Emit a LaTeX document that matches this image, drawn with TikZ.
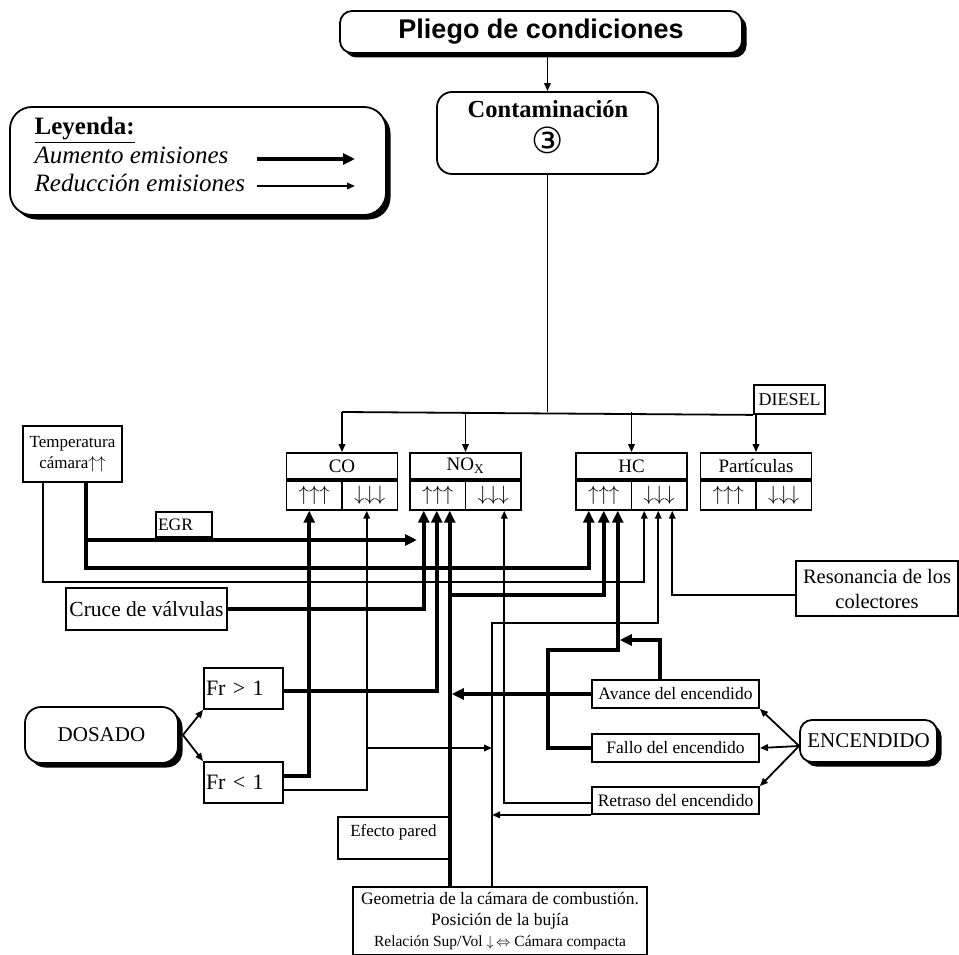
\documentclass[tikz,border=0pt]{standalone}
\usepackage{fontspec}
\setmainfont{Liberation Serif}
\newfontfamily\sansnegra{Liberation Sans}
\newfontfamily\simbolos{DejaVu Sans}
\usetikzlibrary{arrows.meta, positioning, shadows}

\newcommand{\tam}[2]{\fontsize{#1}{#2}\selectfont}

\tikzset{
  caja/.style={draw, line width=1.8pt, fill=white, inner sep=0pt},
  sombra/.style={caja, rounded corners=#1,
    drop shadow={shadow xshift=4.5pt, shadow yshift=-4.5pt, fill=black, opacity=1}},
  titulo/.style={caja, minimum width=111pt, minimum height=26pt, font=\tam{19}{22}},
  celda/.style={caja, minimum width=55.5pt, minimum height=29pt, font=\tam{21}{22}},
  linea/.style={line width=1.8pt},
  aumento/.style={line width=4pt, -{Triangle[length=12pt,width=11pt]}},
  reduccion/.style={line width=1.8pt, -{Triangle[length=8pt,width=6.5pt]}},
}

\begin{document}
\begin{tikzpicture}[x=1pt, y=-1pt]
\useasboundingbox (0,0) rectangle (959,955);

% cabecera
\node[sombra=12pt, minimum width=402pt, minimum height=42pt, font=\sansnegra\bfseries\tam{27}{30}] (pliego) at (541,32) {Pliego de condiciones};
\node[caja, rounded corners=15pt, minimum width=221pt, minimum height=82pt] (conta) at (547.5,133) {};
\node[anchor=base, font=\bfseries\tam{24.5}{28}] (conta-txt) at (548,118) {Contaminación};
\node[font=\simbolos\tam{36}{38}] (conta-num) at (548,140) {③};

% leyenda
\node[sombra=22pt, minimum width=376pt, minimum height=108pt] (leyenda) at (198,161) {};
\node[anchor=north west, align=left, font=\tam{25}{28.5}] (ley-txt) at ([xshift=22pt,yshift=-8pt]leyenda.north west)
  {\underline{\textbf{Leyenda:}}\\ \textit{Aumento emisiones}\\ \textit{Reducción emisiones}};
\coordinate (ley-a1) at (257,159);
\coordinate (ley-a2) at (355,159);
\coordinate (ley-r1) at (257,186);
\coordinate (ley-r2) at (355,186);
\draw[aumento] (ley-a1) -- (ley-a2);
\draw[reduccion] (ley-r1) -- (ley-r2);

% emisiones
\foreach \nom/\txt/\xc in {co/CO/342, nox/{NO\textsubscript{X}}/465.5, hc/HC/631.5, part/Partículas/756}{
  \node[titulo] (\nom) at (\xc,466) {\txt};
  \node[celda, anchor=north west] (\nom-up) at (\nom.south west) {$\uparrow\uparrow\uparrow$};
  \node[celda, anchor=north east] (\nom-dn) at (\nom.south east) {$\downarrow\downarrow\downarrow$};
}
\node[caja, minimum width=71pt, minimum height=29pt, font=\tam{18}{20}] (diesel) at (789.5,399.5) {DIESEL};

% entradas
\coordinate (co-u) at ([xshift=-5pt]co-up.south);
\coordinate (co-d) at ([xshift=-3pt]co-dn.south);
\coordinate (nox-u1) at ([xshift=-14pt]nox-up.south);
\coordinate (nox-u2) at ([xshift=-1pt]nox-up.south);
\coordinate (nox-u3) at ([xshift=12pt]nox-up.south);
\coordinate (nox-d) at ([xshift=11pt]nox-dn.south);
\coordinate (hc-u1) at ([xshift=-15pt]hc-up.south);
\coordinate (hc-u2) at ([xshift=0pt]hc-up.south);
\coordinate (hc-u3) at ([xshift=14pt]hc-up.south);
\coordinate (hc-d1) at ([xshift=-15pt]hc-dn.south);
\coordinate (hc-d2) at ([xshift=-1pt]hc-dn.south);
\coordinate (hc-d3) at ([xshift=13pt]hc-dn.south);

% causas
\node[caja, minimum width=99pt, minimum height=56pt, align=center, font=\tam{17}{21}] (temp) at (72.5,454) {Temperatura\\cámara$\uparrow\uparrow$};
\node[caja, minimum width=56pt, minimum height=25pt, text width=52pt, align=left, font=\tam{17.5}{20}] (egr) at (184,524.5) {EGR};
\node[caja, minimum width=161pt, minimum height=42pt, font=\tam{21.5}{24}] (cruce) at (146.5,609) {Cruce de válvulas};
\node[caja, minimum width=162pt, minimum height=55pt, align=center, font=\tam{20.5}{25}] (reson) at (877,588.5) {Resonancia de los\\colectores};
\node[sombra=16pt, minimum width=153pt, minimum height=56pt, font=\tam{21}{24}] (dosado) at (101.5,735) {DOSADO};
\node[caja, minimum width=79pt, minimum height=41pt, text width=75pt, align=left, font=\tam{22}{24}] (frgt) at (243.5,688.5) {Fr > 1};
\node[caja, minimum width=79pt, minimum height=41pt, text width=75pt, align=left, font=\tam{22}{24}] (frlt) at (243.5,782.5) {Fr < 1};
\node[caja, minimum width=167pt, minimum height=28pt, font=\tam{17.5}{20}] (avance) at (675.5,694) {Avance del encendido};
\node[caja, minimum width=167pt, minimum height=28pt, font=\tam{17.5}{20}] (fallo) at (675.5,748) {Fallo del encendido};
\node[caja, minimum width=167pt, minimum height=27pt, font=\tam{17.5}{20}] (retraso) at (675.5,800.5) {Retraso del encendido};
\node[sombra=12pt, minimum width=137pt, minimum height=42pt, font=\tam{21}{24}] (encendido) at (868.5,741) {ENCENDIDO};
\node[caja, minimum width=111pt, inner sep=3pt, text height=16pt, text depth=20pt, font=\tam{17}{20}] (efecto) at (393.5,838) {Efecto pared};
\node[caja, minimum width=294pt, minimum height=68pt, align=center, font=\tam{17.5}{21}] (geom) at (500,921)
  {Geometria de la cámara de combustión.\\ Posición de la bujía\\ {\tam{15.5}{21}Relación Sup/Vol $\downarrow\,\Leftrightarrow$ Cámara compacta}};

% arbol superior
\coordinate (bus) at (conta.south |- 0,412);
\draw[reduccion] (conta.north |- pliego.south) -- (conta.north);
\draw[linea] (conta.south) -- (bus);
\draw[linea] (co.north |- bus) -- (diesel.south west);
\foreach \nom in {co, nox, hc}
  \draw[reduccion] (\nom.north |- bus) -- (\nom.north);
\draw[reduccion] (part.north |- diesel.south) -- (part.north);

% temperatura
\coordinate (temp-g) at ([xshift=13.5pt]temp.south);
\coordinate (temp-f) at ([xshift=-29.5pt]temp.south);
\coordinate (egr-fin) at (417,540);
\draw[aumento] (temp-g) |- (hc-u1 |- 0,568) -- (hc-u1);
\draw[aumento] (temp-g |- 0,540) -- (egr-fin);
\draw[reduccion] (temp-f) |- (hc-d1 |- 0,582) -- (hc-d1);

% valvulas y colectores
\draw[aumento] (cruce.east) -| (nox-u1);
\draw[reduccion] ([yshift=-6.5pt]reson.west) -| (hc-d3);

% dosado
\draw[reduccion] ([xshift=4pt]dosado.east) -- (frgt.south west);
\draw[reduccion] ([xshift=4pt]dosado.east) -- (frlt.north west);
\draw[aumento] ([yshift=-2.5pt]frgt.east) -| (nox-u2);
\draw[aumento] ([yshift=6.5pt]frlt.east) -| (co-u);
\draw[reduccion] ([yshift=-7.5pt]frlt.east) -| (co-d);

% geometria
\coordinate (geom-g) at (nox-u3 |- geom.north);
\coordinate (geom-f) at ([xshift=-8pt]geom.north);
\draw[aumento] (geom-g) -- (nox-u3);
\draw[aumento] (nox-u3 |- 0,595) -| (hc-u2);
\draw[reduccion] (geom-f) |- (hc-d2 |- 0,623) -- (hc-d2);
\draw[reduccion] (co-d |- 0,748) -- (geom-f |- 0,748);

% encendido
\draw[reduccion] ([yshift=-5pt]encendido.west) -- (avance.south east);
\draw[reduccion] ([yshift=-5pt]encendido.west) -- (fallo.east);
\draw[reduccion] ([yshift=-5pt]encendido.west) -- (retraso.north east);
\draw[aumento, shorten >=2pt] (avance.west) -- (avance.west -| nox-u3);
\draw[aumento, shorten >=2pt] ([xshift=-15.5pt]avance.north) |- (hc-u3 |- 0,640);
\draw[aumento] (fallo.west) -| (548,650) -| (hc-u3);
\draw[reduccion] ([yshift=-2.5pt]retraso.west) -| (nox-d);
\draw[reduccion] (retraso.south west) -- (retraso.south west -| geom-f);
\end{tikzpicture}
\end{document}
